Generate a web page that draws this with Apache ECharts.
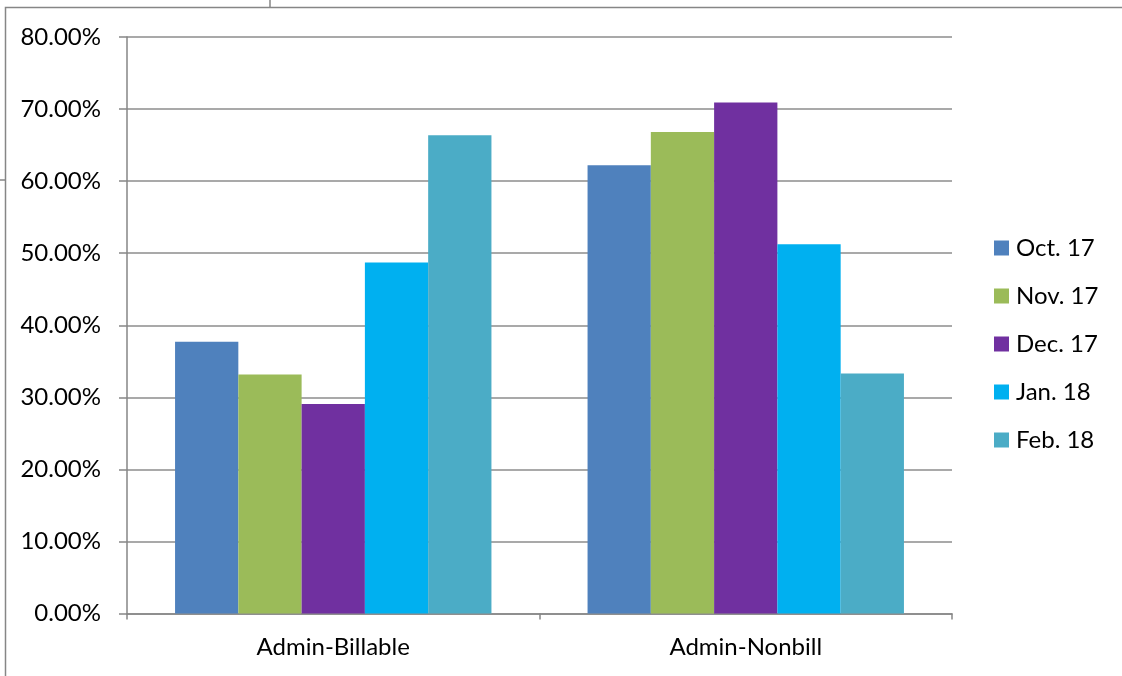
<!DOCTYPE html>
<html><head><meta charset="utf-8">
<script src="https://cdn.jsdelivr.net/npm/echarts@6/dist/echarts.min.js"></script>
<style>html,body{margin:0;padding:0;background:#fff}#c{width:1122px;height:676px}</style>
</head><body><div id="c"></div>
<script>
const categories = ['Admin-Billable', 'Admin-Nonbill'];
const seriesNames = ['Oct. 17', 'Nov. 17', 'Dec. 17', 'Jan. 18', 'Feb. 18'];
const oct17 = [37.70, 62.20];
const nov17 = [33.18, 66.83];
const dec17 = [29.06, 70.90];
const jan18 = [48.71, 51.25];
const feb18 = [66.37, 33.30];
const yTicks = [0, 10, 20, 30, 40, 50, 60, 70, 80];
const colors = ['#4F81BD', '#9BBB59', '#7030A0', '#00B0F0', '#4BACC6'];

const values = [oct17, nov17, dec17, jan18, feb18];
const FONT = 'Lato';
const FS = 24;
const chart = echarts.init(document.getElementById('c'), null, {renderer: 'canvas'});
chart.setOption({
  animation: false,
  color: colors,
  grid: {left: 127, right: 170, top: 37, bottom: 62.5, containLabel: false},
  legend: {
    orient: 'vertical', left: 989, top: 231,
    itemWidth: 15, itemHeight: 15, itemGap: 24,
    icon: 'rect',
    textStyle: {fontFamily: FONT, fontSize: FS, color: '#000', padding: [0, 0, 0, 2]},
    data: seriesNames
  },
  xAxis: {
    type: 'category', data: categories,
    axisLine: {lineStyle: {color: '#868686', width: 1.5}},
    axisTick: {show: true, length: 6, lineStyle: {color: '#868686', width: 1.5}},
    axisLabel: {fontFamily: FONT, fontSize: FS, color: '#000', margin: 22}
  },
  yAxis: {
    type: 'value', min: yTicks[0], max: yTicks[yTicks.length - 1], interval: 10,
    axisLine: {show: true, lineStyle: {color: '#868686', width: 1.5}},
    axisTick: {show: true, length: 8, lineStyle: {color: '#868686', width: 1.5}},
    splitLine: {lineStyle: {color: '#8c8c8c', width: 1.5}},
    axisLabel: {fontFamily: FONT, fontSize: FS, color: '#000', margin: 26,
      formatter: v => v.toFixed(2) + '%'}
  },
  series: seriesNames.map((n, i) => ({
    name: n, type: 'bar', data: values[i],
    barGap: '0%', barCategoryGap: '23.3%',
    itemStyle: {color: colors[i]}
  })),
  graphic: [
    {type: 'rect', shape: {x: 5.5, y: 7.5, width: 1200, height: 800}, style: {fill: null, stroke: '#868686', lineWidth: 1.5}, silent: true},
    {type: 'line', shape: {x1: 270, y1: 0, x2: 270, y2: 7}, style: {stroke: '#868686', lineWidth: 1.5}},
    {type: 'line', shape: {x1: 0, y1: 180, x2: 5, y2: 180}, style: {stroke: '#868686', lineWidth: 1.5}}
  ]
});
</script></body></html>
